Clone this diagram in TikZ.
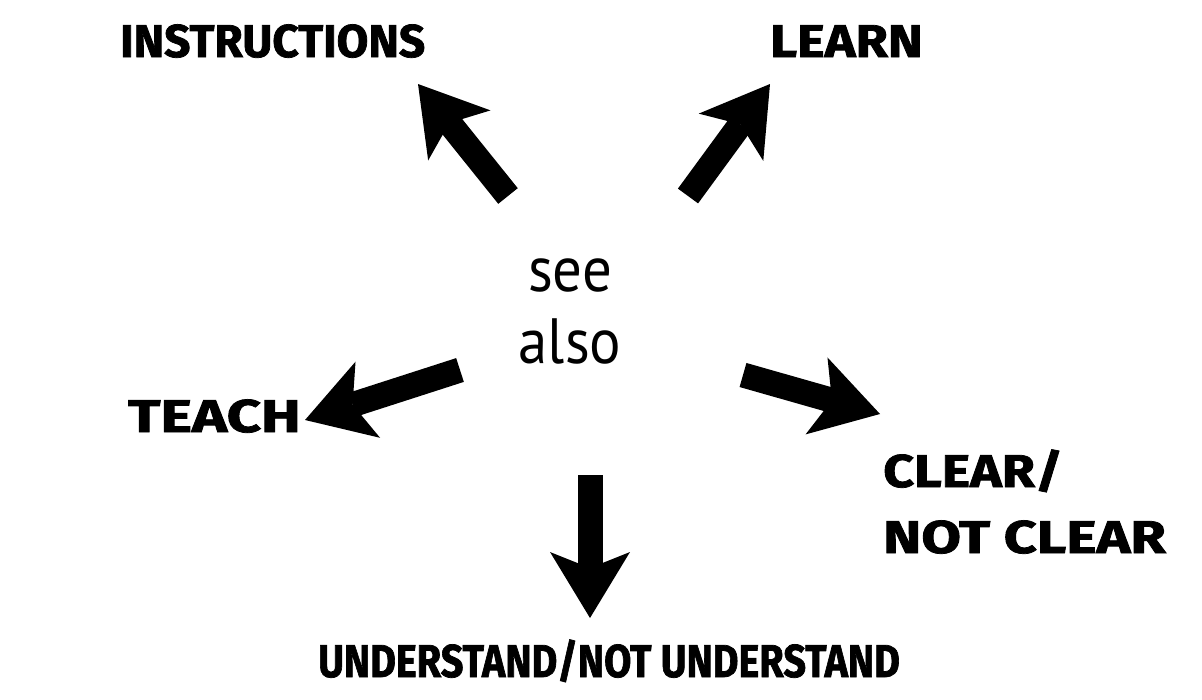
\documentclass[tikz,border=0pt]{standalone}
\usepackage{fontspec}
\usetikzlibrary{arrows.meta}
\newfontfamily\labfont{Fira Sans Bold}[FakeBold=1.6]
\newfontfamily\seefont{PT Sans}
\begin{document}
\begin{tikzpicture}[x=1pt,y=-1pt,
  lab/.style={inner sep=0pt, anchor=base west, font=\labfont\fontsize{46}{66}\selectfont, align=left},
  bigarrow/.style={line width=25pt, -{Stealth[length=66pt, width=80pt, inset=16pt, line width=0pt]}}]
\useasboundingbox[fill=white] (0,0) rectangle (1202,699);
\node[inner sep=0pt, align=center, font=\seefont\fontsize{64}{72}\selectfont] (see) at (570,311) {\scalebox{0.92}[1]{see}\\\scalebox{0.92}[1]{also}};
\node[lab] (instr) at (120,57) {INSTRUCTIONS};
\node[lab] (learn) at (770,57) {\scalebox{1.14}[1]{LEARN}};
\node[lab] (teach) at (128,432) {\scalebox{1.3}[1]{TEACH}};
\node[lab] (clear) at (883,553) {\scalebox{1.17}[1]{CLEAR/}\\\scalebox{1.25}[1]{NOT CLEAR}};
\node[lab] (under) at (318,677) {\scalebox{0.86}[1]{UNDERSTAND/NOT UNDERSTAND}};
\coordinate (t1) at (508,196); \coordinate (h1) at (418,84);
\coordinate (t2) at (688,196); \coordinate (h2) at (770,84);
\coordinate (t3) at (460,370); \coordinate (h3) at (305,420);
\coordinate (t4) at (743,375); \coordinate (h4) at (880,414);
\coordinate (t5) at (590,475); \coordinate (h5) at (590,618);
\draw[bigarrow] (t1) -- (h1);
\draw[bigarrow] (t2) -- (h2);
\draw[bigarrow] (t3) -- (h3);
\draw[bigarrow] (t4) -- (h4);
\draw[bigarrow] (t5) -- (h5);
\end{tikzpicture}
\end{document}
